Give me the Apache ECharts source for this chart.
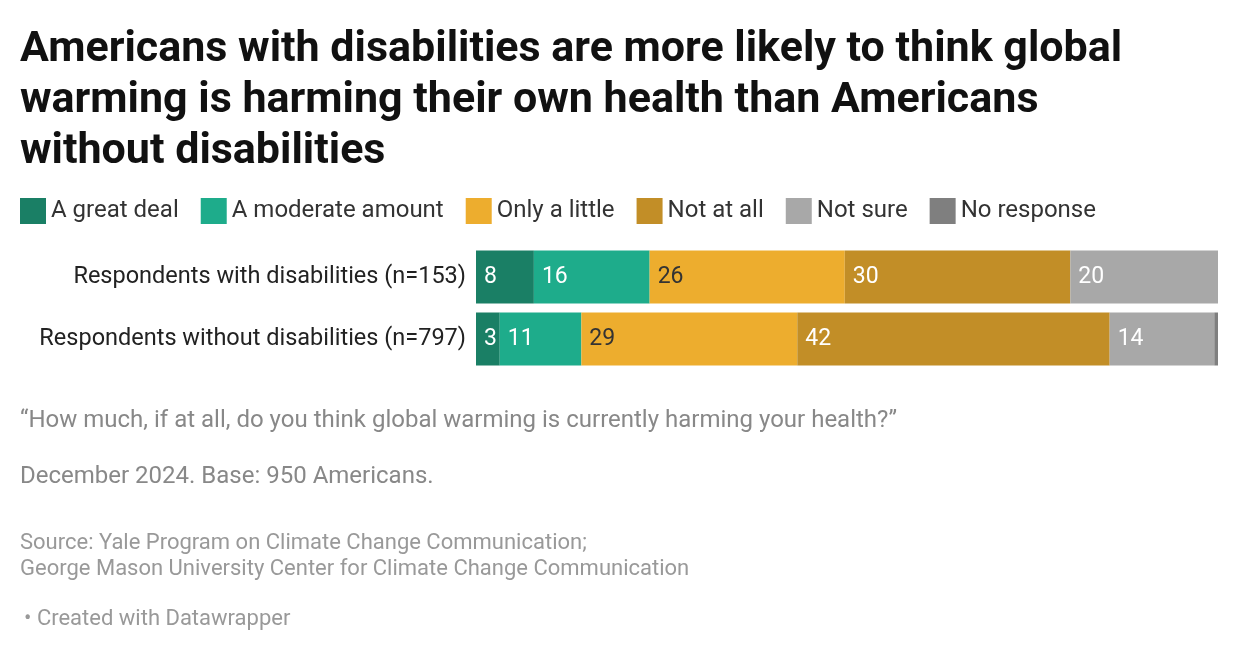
<!DOCTYPE html>
<html>
<head>
    <meta charset="utf-8">
    <title>Global warming and health</title>
    <script src="https://cdn.jsdelivr.net/npm/echarts@6/dist/echarts.min.js"></script>
    <style>
        body { margin: 0; background: #fff; }
        #chart { width: 1240px; height: 652px; }
    </style>
</head>
<body>
<div id="chart"></div>
<script type="text/javascript">
    var myChart = echarts.init(document.getElementById('chart'));
    var groups = ['Respondents with disabilities (n=153)', 'Respondents without disabilities (n=797)'];
    // percentages per answer, [with, without]
    var answers = [
        {name: 'A great deal', color: '#1a7f65', label: '#fff', data: [7.8, 3.2]},
        {name: 'A moderate amount', color: '#1eac8b', label: '#fff', data: [15.6, 11.0]},
        {name: 'Only a little', color: '#edad2e', label: '#333', data: [26.3, 29.1]},
        {name: 'Not at all', color: '#c28e27', label: '#fff', data: [30.4, 42.1]},
        {name: 'Not sure', color: '#a8a8a8', label: '#fff', data: [19.9, 14.1]},
        {name: 'No response', color: '#7f7f7f', label: '#fff', data: [0, 0.5]}
    ];
    var font = 'Roboto, sans-serif';
    var series = answers.map(function (a) {
        return {
            name: a.name,
            type: 'bar',
            stack: 'all',
            barWidth: 53,
            itemStyle: {color: a.color},
            label: {
                show: a.name !== 'No response',
                position: 'insideLeft',
                offset: [3, 0],
                color: a.label,
                fontSize: 23,
                fontFamily: font,
                formatter: function (p) { return p.value > 0 ? Math.round(p.value) : ''; }
            },
            data: a.data
        };
    });
    myChart.setOption({
        animation: false,
        title: [{
            text: 'Americans with disabilities are more likely to think global\nwarming is harming their own health than Americans\nwithout disabilities',
            left: 15, top: 20,
            textStyle: {fontFamily: font, fontWeight: 'bold', fontSize: 43, lineHeight: 51, color: '#111'}
        }, {
            text: '\u201cHow much, if at all, do you think global warming is currently harming your health?\u201d',
            left: 15, top: 404,
            textStyle: {fontFamily: font, fontWeight: 'normal', fontSize: 24, color: '#888'}
        }, {
            text: 'December 2024. Base: 950 Americans.',
            left: 15, top: 460,
            textStyle: {fontFamily: font, fontWeight: 'normal', fontSize: 24, color: '#888'}
        }, {
            text: 'Source: Yale Program on Climate Change Communication;\nGeorge Mason University Center for Climate Change Communication',
            left: 15, top: 525,
            textStyle: {fontFamily: font, fontWeight: 'normal', fontSize: 22, lineHeight: 26, color: '#999'}
        }, {
            text: '\u2022 Created with Datawrapper',
            left: 19, top: 603,
            textStyle: {fontFamily: font, fontWeight: 'normal', fontSize: 22, color: '#999'}
        }],
        legend: {
            left: 15, top: 193,
            icon: 'rect',
            itemWidth: 26, itemHeight: 26,
            itemGap: 22,
            selectedMode: false,
            textStyle: {fontFamily: font, fontSize: 24, color: '#333', padding: [0, 0, 0, 0]},
            data: answers.map(function (a) { return a.name; })
        },
        grid: {left: 476, right: 22, top: 246, height: 124},
        xAxis: {type: 'value', min: 0, max: 100, show: false},
        yAxis: {
            type: 'category',
            inverse: true,
            data: groups,
            axisLine: {show: false},
            axisTick: {show: false},
            axisLabel: {fontFamily: font, fontSize: 23.5, color: '#222', margin: 10}
        },
        series: series
    });
</script>
</body>
</html>
